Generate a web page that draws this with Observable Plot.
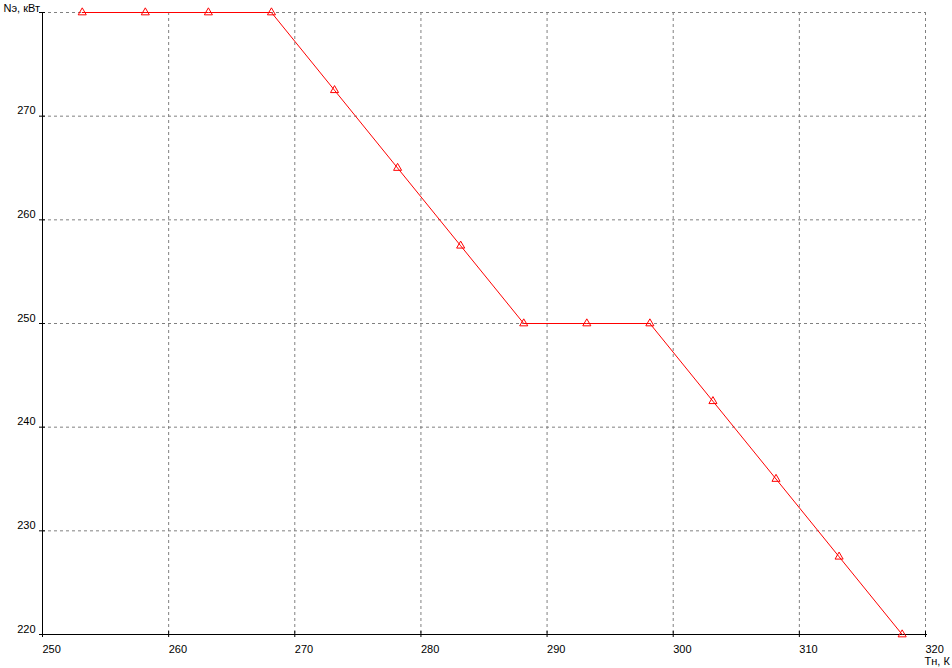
<!DOCTYPE html>
<html>
<head>
<meta charset="utf-8">
<script src="https://cdn.jsdelivr.net/npm/d3@7"></script>
<script src="https://cdn.jsdelivr.net/npm/@observablehq/plot@0.6"></script>
<style>
  html, body { margin: 0; padding: 0; background: #fff; }
  #chart svg { display: block; }
</style>
</head>
<body>
<div id="chart"></div>
<script>
// Data
const temperatureK = [253.15, 258.15, 263.15, 268.15, 273.15, 278.15, 283.15, 288.15, 293.15, 298.15, 303.15, 308.15, 313.15, 318.15];
const powerKW      = [280, 280, 280, 280, 272.5, 265, 257.5, 250, 250, 250, 242.5, 235, 227.5, 220];

const xTicks = [250, 260, 270, 280, 290, 300, 310, 320];
const yTicks = [220, 230, 240, 250, 260, 270, 280];
const yLabelTicks = [220, 230, 240, 250, 260, 270];
const xGridTicks = [260, 270, 280, 290, 300, 310, 320];
const yGridTicks = [230, 240, 250, 260, 270, 280];

const xLabel = "Тн, К";
const yLabel = "Nэ, кВт";

const data = temperatureK.map((t, i) => ({t, p: powerKW[i]}));

const font = "Liberation Sans, Arial, sans-serif";
const gridStyle = {stroke: "#808080", strokeDasharray: "3,3", strokeWidth: 1};

const chart = Plot.plot({
  width: 952,
  height: 668,
  marginLeft: 42,
  marginRight: 27,
  marginTop: 12,
  marginBottom: 34,
  style: {fontFamily: font, fontSize: "11px", background: "#fff", color: "#000"},
  x: {domain: [250, 320], axis: null},
  y: {domain: [220, 280], axis: null},
  marks: [
    Plot.ruleX(xGridTicks, {x: d => d, ...gridStyle}),
    Plot.ruleY(yGridTicks, {y: d => d, ...gridStyle}),
    // axes lines
    Plot.ruleX([250], {x: d => d, stroke: "#000", insetBottom: -3}),
    Plot.ruleY([220], {y: d => d, stroke: "#000", insetRight: -2}),
    // tick marks crossing the axes
    Plot.ruleX(xTicks, {x: d => d, y1: 220, y2: 220, insetTop: -3, insetBottom: -3, stroke: "#000"}),
    Plot.ruleY(yTicks, {y: d => d, x1: 250, x2: 250, insetLeft: -3, insetRight: -3, stroke: "#000"}),
    // tick labels
    Plot.text(xTicks, {x: d => d, y: 220, text: d => String(d), textAnchor: "start", lineAnchor: "bottom", dy: 18, dx: 0, fill: "#000"}),
    Plot.text(yLabelTicks, {x: 250, y: d => d, text: d => String(d), textAnchor: "end", lineAnchor: "bottom", dx: -7, dy: -2, fill: "#000"}),
    // axis titles
    Plot.text([xLabel], {x: 320, y: 220, text: d => d, textAnchor: "start", lineAnchor: "bottom", dy: 30, dx: -1, fill: "#000"}),
    Plot.text([yLabel], {x: 250, y: 280, text: d => d, textAnchor: "start", lineAnchor: "bottom", dx: -39, dy: -1, fill: "#000"}),
    // data
    Plot.line(data, {x: "t", y: "p", stroke: "#ff0000", strokeWidth: 1}),
    Plot.dot(data, {x: "t", y: "p", symbol: "triangle", r: 3, stroke: "#ff0000", fill: "none", strokeWidth: 1})
  ]
});

document.getElementById("chart").appendChild(chart);
</script>
</body>
</html>
